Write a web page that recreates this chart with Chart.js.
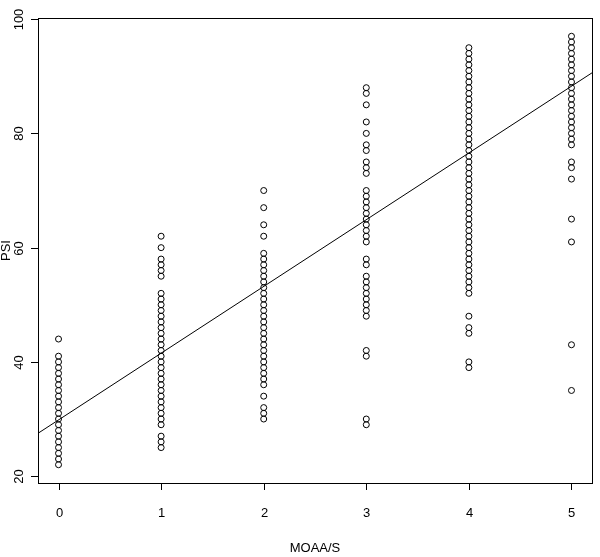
<!DOCTYPE html>
<html>
<head>
<meta charset="utf-8">
<script src="https://cdn.jsdelivr.net/npm/chart.js@4/dist/chart.umd.min.js"></script>
<style>
  html, body { margin: 0; padding: 0; background: #fff; }
  #wrap { width: 600px; height: 557px; position: relative; }
</style>
</head>
<body>
<div id="wrap"><canvas id="chart"></canvas></div>
<script>
// MOAA/S levels and PSI values
const levels = [0, 1, 2, 3, 4, 5];
const psiAt0 = [22, 23, 24, 25, 26, 27, 28, 29, 30, 31, 32, 33, 34, 35, 36, 37, 38, 39, 40, 41, 44];
const psiAt1 = [25, 26, 27, 29, 30, 31, 32, 33, 34, 35, 36, 37, 38, 39, 40, 41, 42, 43, 44, 45, 46, 47, 48, 49, 50, 51, 52, 55, 56, 57, 58, 60, 62];
const psiAt2 = [30, 31, 32, 34, 36, 37, 38, 39, 40, 41, 42, 43, 44, 45, 46, 47, 48, 49, 50, 51, 52, 53, 54, 55, 56, 57, 58, 59, 62, 64, 67, 70];
const psiAt3 = [29, 30, 41, 42, 48, 49, 50, 51, 52, 53, 54, 55, 57, 58, 61, 62, 63, 64, 65, 66, 67, 68, 69, 70, 73, 74, 75, 77, 78, 80, 82, 85, 87, 88];
const psiAt4 = [39, 40, 45, 46, 48, 52, 53, 54, 55, 56, 57, 58, 59, 60, 61, 62, 63, 64, 65, 66, 67, 68, 69, 70, 71, 72, 73, 74, 75, 76, 77, 78, 79, 80, 81, 82, 83, 84, 85, 86, 87, 88, 89, 90, 91, 92, 93, 94, 95];
const psiAt5 = [35, 43, 61, 65, 72, 74, 75, 78, 79, 80, 81, 82, 83, 84, 85, 86, 87, 88, 89, 90, 91, 92, 93, 94, 95, 96, 97];
const psiGroups = [psiAt0, psiAt1, psiAt2, psiAt3, psiAt4, psiAt5];

// fitted line, read at the two edges of the plot box
const fitX = [-0.2, 5.2];
const fitY = [27.5, 90.6];

// axis ticks
const xTicks = [0, 1, 2, 3, 4, 5];
const yTicks = [20, 40, 60, 80, 100];
const xTitle = "MOAA/S";
const yTitle = "PSI";

const FONT = '13px "Liberation Sans", Arial, sans-serif';

// build the point list
const points = [];
psiGroups.forEach((vals, i) => {
  vals.forEach((v) => points.push({ x: levels[i], y: v }));
});
const fitLine = fitX.map((x, i) => ({ x: x, y: fitY[i] }));

// R-style box, ticks and labels
const rAxes = {
  id: "rAxes",
  afterDraw(chart) {
    const c = chart.ctx;
    const a = chart.chartArea;
    const xs = chart.scales.x;
    const ys = chart.scales.y;
    c.save();
    c.strokeStyle = "#000";
    c.fillStyle = "#000";
    c.lineWidth = 1;
    c.strokeRect(Math.round(a.left) + 0.5, Math.round(a.top) + 0.5,
      Math.round(a.right - a.left), Math.round(a.bottom - a.top));
    c.font = FONT;

    // x axis
    c.textAlign = "center";
    c.textBaseline = "middle";
    xTicks.forEach((t) => {
      const px = Math.round(xs.getPixelForValue(t)) + 0.5;
      c.beginPath();
      c.moveTo(px, a.bottom);
      c.lineTo(px, a.bottom + 7);
      c.stroke();
      c.fillText(String(t), px, a.bottom + 30);
    });
    c.fillText(xTitle, (a.left + a.right) / 2, a.bottom + 65);

    // y axis, labels turned like R does
    yTicks.forEach((t) => {
      const py = Math.round(ys.getPixelForValue(t)) + 0.5;
      c.beginPath();
      c.moveTo(a.left, py);
      c.lineTo(a.left - 7, py);
      c.stroke();
      c.save();
      c.translate(a.left - 19, py);
      c.rotate(-Math.PI / 2);
      c.fillText(String(t), 0, 0);
      c.restore();
    });
    c.save();
    c.translate(a.left - 32, (a.top + a.bottom) / 2);
    c.rotate(-Math.PI / 2);
    c.fillText(yTitle, 0, 0);
    c.restore();
    c.restore();
  }
};

new Chart(document.getElementById("chart"), {
  type: "scatter",
  data: {
    datasets: [
      {
        type: "scatter",
        data: points,
        pointStyle: "circle",
        pointRadius: 3,
        pointBorderWidth: 1,
        pointBorderColor: "#000",
        pointBackgroundColor: "rgba(0,0,0,0)",
        pointHoverRadius: 3
      },
      {
        type: "line",
        data: fitLine,
        borderColor: "#000",
        borderWidth: 1,
        pointRadius: 0,
        fill: false
      }
    ]
  },
  options: {
    responsive: true,
    maintainAspectRatio: false,
    animation: false,
    layout: { padding: { left: 38, right: 8, top: 18, bottom: 74 } },
    plugins: { legend: { display: false }, tooltip: { enabled: false } },
    scales: {
      x: { type: "linear", min: -0.2, max: 5.2, display: false },
      y: { type: "linear", min: 18.8, max: 100.2, display: false }
    }
  },
  plugins: [rAxes]
});
</script>
</body>
</html>
